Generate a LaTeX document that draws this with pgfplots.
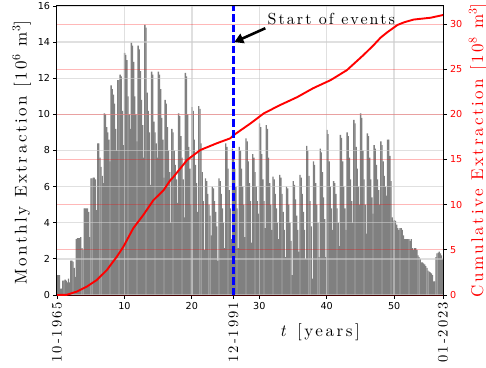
\documentclass[border=0pt]{standalone}
\usepackage{fontspec}
\setsansfont{DejaVu Sans}
\newfontfamily\lblfam{lmroman10-regular.otf}[LetterSpace=15,ItalicFont=lmroman10-italic.otf]
\newfontfamily\annfam{lmroman10-regular.otf}[LetterSpace=13]
\newfontfamily\datefam{lmroman10-regular.otf}[LetterSpace=14]
\newcommand\lblsty{\lblfam\fontsize{17}{20}\selectfont}
\newcommand\annsty{\annfam\fontsize{16}{19}\selectfont}
\newcommand\datesty{\datefam\fontsize{14.5}{17}\selectfont}
\newcommand\ticksty{\sffamily\fontsize{9.6}{11}\selectfont}
\usepackage{pgfplots}
\pgfplotsset{compat=1.18}
\usepackage{pgfplotstable}
\usetikzlibrary{arrows.meta}
\definecolor{barc}{HTML}{808080}

\pgfplotstableread{
k a b c d e f
0 1.1 1.1 1.1 0.35 0.35 0.8
1 0.8 0.85 0.8 0.7 0.9 0.7
2 1.9 1.9 1.85 1.5 1.0 3.1
3 3.15 3.15 3.15 3.2 2.6 2.5
4 4.8 4.8 4.8 4.8 4.6 3.2
5 6.45 6.45 6.5 6.5 6.4 4.7
6 8.4 8.4 7.6 7.1 6.6 6.2
7 10.06 10.0 9.3 9.0 8.6 7.4
8 11.6 11.4 11.1 10.6 9.2 8.0
9 11.9 11.9 12.2 12.1 10.2 8.3
10 13.4 13.3 13.0 11.0 10.0 9.2
11 13.97 13.8 12.9 11.0 10.0 8.5
12 13.8 13.6 12.4 10.8 9.4 7.6
13 14.95 14.8 11.2 10.2 9.0 6.1
14 12.36 12.2 9.6 9.0 8.4 7.6
15 12.36 12.2 11.4 9.8 8.6 6.5
16 10.8 10.6 9.3 8.0 6.8 4.0
17 9.2 9.0 8.0 7.2 6.4 5.1
18 10.06 9.9 8.8 7.6 6.4 4.3
19 12.3 12.1 10.0 8.2 7.0 5.0
20 10.4 10.2 8.6 7.2 6.2 4.6
21 10.45 10.3 8.4 6.8 5.2 2.5
22 6.46 6.3 5.6 5.0 4.4 3.3
23 6.0 5.9 5.2 4.6 3.8 1.9
24 6.45 6.3 5.6 4.8 4.0 2.6
25 8.4 8.2 7.0 5.8 4.8 3.1
26 8.1 7.9 7.0 6.0 4.8 2.6
27 8.2 8.0 7.0 6.0 5.0 3.2
28 8.67 8.5 7.4 6.2 5.2 2.9
29 7.8 7.6 6.8 6.0 5.2 4.5
30 9.5 9.3 7.8 6.4 5.2 3.7
31 9.4 9.2 7.6 6.2 5.0 3.6
32 6.55 6.4 5.6 4.8 4.0 3.1
33 6.65 6.5 5.6 4.6 3.6 2.1
34 6.0 5.9 5.0 4.0 3.0 1.1
35 6.3 6.1 5.3 4.4 3.6 2.4
36 6.65 6.5 5.6 4.6 3.6 2.0
37 8.25 8.0 6.6 5.2 3.8 0.9
38 7.4 7.2 6.2 5.0 4.0 2.1
39 8.1 7.9 6.8 5.4 4.2 2.1
40 9.14 8.9 7.4 6.0 4.8 3.6
41 6.3 6.2 5.6 4.8 4.0 2.7
42 8.86 8.7 7.4 6.0 4.8 3.6
43 9.0 8.8 7.6 6.4 5.2 4.0
44 9.7 9.5 8.2 7.0 6.0 5.0
45 10.06 9.8 8.0 6.4 5.0 3.4
46 8.95 8.8 7.6 6.4 5.4 4.5
47 8.3 8.1 7.2 6.4 5.8 5.0
48 8.5 8.3 7.4 6.6 6.0 5.5
49 8.6 8.6 7.7 6.3 4.3 4.1
50 4.15 4.1 3.9 3.7 3.6 3.7
51 3.7 3.6 3.3 3.1 3.1 3.1
52 3.1 3.1 3.0 3.1 2.6 2.5
53 2.6 2.6 2.5 2.2 2.1 2.0
54 1.8 1.8 1.75 1.7 1.6 1.5
55 1.35 1.3 1.25 1.2 1.1 0.75
56 0.75 2.1 2.3 2.35 2.4 2.3
57 2.2 2.0 0 0 0 0
}\bars

\begin{document}
\begin{tikzpicture}
\path[use as bounding box] (-57pt,-72pt) rectangle (429pt,295pt);
\begin{axis}[
  at={(0pt,0pt)}, anchor=south west,
  scale only axis, width=386pt, height=289pt,
  xmin=0, xmax=57.25, ymin=0, ymax=16,
  xtick={10,20,30,40,50},
  ytick={0,2,...,16},
  extra x ticks={0,26.17,57.25},
  extra x tick labels={10-1965,12-1991,01-2023},
  extra x tick style={grid=none, tick label style={rotate=90, anchor=east, font=\datesty}},
  xtick pos=bottom, ytick pos=left,
  tick align=outside, major tick length=3.5pt,
  tick style={black, line width=0.8pt},
  axis line style={line width=1pt},
  axis on top,
  grid=major,
  major grid style={black!20, opacity=0.6, line width=1.3pt},
  ticklabel style={font=\ticksty},
  /pgf/number format/assume math mode=true,
  xlabel={\textit{t} [years]},
  xlabel style={font=\lblsty, at={(axis description cs:0.681,-0.144)}, anchor=base, inner sep=0pt},
  ylabel={Monthly Extraction [10\textsuperscript{6} m\textsuperscript{3}]},
  ylabel style={font=\lblsty, at={(axis description cs:-0.079,0.493)}, anchor=base, inner sep=0pt},
]
\addplot[ybar, bar width=0.2, bar shift=0pt, fill=barc, draw=none] table[x expr=\thisrow{k}+0.0333, y=a] {\bars};
\addplot[ybar, bar width=0.2, bar shift=0pt, fill=barc, draw=none] table[x expr=\thisrow{k}+0.2, y=b] {\bars};
\addplot[ybar, bar width=0.2, bar shift=0pt, fill=barc, draw=none] table[x expr=\thisrow{k}+0.3667, y=c] {\bars};
\addplot[ybar, bar width=0.2, bar shift=0pt, fill=barc, draw=none] table[x expr=\thisrow{k}+0.5333, y=d] {\bars};
\addplot[ybar, bar width=0.2, bar shift=0pt, fill=barc, draw=none] table[x expr=\thisrow{k}+0.7, y=e] {\bars};
\addplot[ybar, bar width=0.2, bar shift=0pt, fill=barc, draw=none] table[x expr=\thisrow{k}+0.8667, y=f] {\bars};
\end{axis}
\begin{axis}[
  at={(0pt,0pt)}, anchor=south west,
  scale only axis, width=386pt, height=289pt,
  xmin=0, xmax=57.25, ymin=0, ymax=32,
  axis x line=none, axis y line*=right,
  ytick={0,5,...,30},
  tick align=outside, major tick length=3.5pt,
  tick style={black, line width=0.8pt},
  axis line style={line width=1pt},
  ymajorgrids,
  major grid style={red, opacity=0.28, line width=0.9pt},
  ticklabel style={font=\ticksty, red},
  /pgf/number format/assume math mode=true,
  ylabel={Cumulative Extraction [10\textsuperscript{8} m\textsuperscript{3}]},
  ylabel style={font=\lblsty, red, at={(axis description cs:1.1036,0.5)}, anchor=base, inner sep=0pt},
]
\addplot[red, line width=1.9pt, no marks, line join=round] coordinates {
(0,0) (1.44,0.02) (2.9,0.37) (4.4,0.92) (5.9,1.66) (7.4,2.77) (8.87,4.24) (9.85,5.35)
(11.3,7.38) (12.8,8.86) (14.3,10.5) (15.8,11.6) (16.8,12.7) (17.3,13.1) (19.3,14.95)
(21.25,16.05) (23.7,16.8) (25.7,17.35) (26.2,17.7) (28.7,19.0) (30.65,20.1) (33,21.0)
(35.6,21.9) (38,22.9) (40.6,23.8) (43.0,24.9) (45.5,26.6) (47,27.7) (48.0,28.5) (49,29.1)
(50.5,29.9) (51.5,30.2) (52.9,30.5) (55.4,30.7) (57.25,31.0)};
\addplot[blue, line width=2.2pt, dash pattern=on 7.5pt off 3pt, no marks] coordinates {(26.17,0) (26.17,32)};
\node[anchor=base west, font=\annsty, inner sep=0pt] at (axis cs:31.2,29.9) {Start of events};
\draw[-{Triangle[length=9pt,width=10pt]}, line width=2.6pt] (axis cs:30.9,29.54) -- (axis cs:26.3,28.0);
\end{axis}
\end{tikzpicture}
\end{document}
